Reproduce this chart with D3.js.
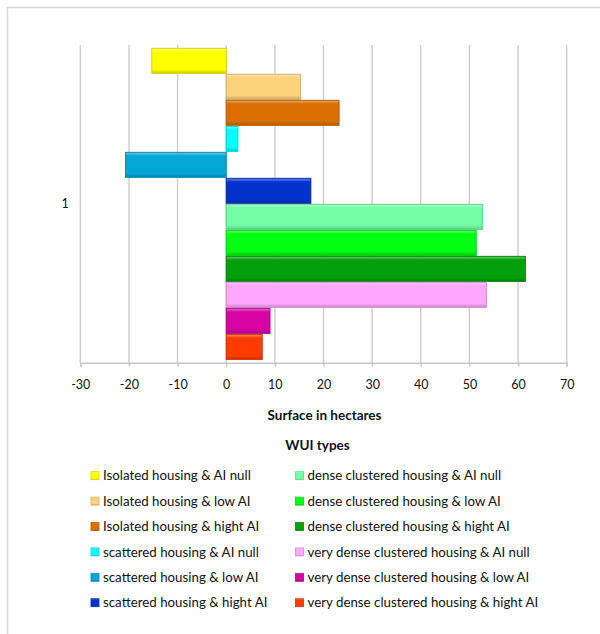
<!DOCTYPE html>
<html><head><meta charset="utf-8">
<script src="https://cdn.jsdelivr.net/npm/d3@7/dist/d3.min.js"></script>
<style>body{margin:0;background:#fff}svg{display:block}text{font-family:Lato,"Open Sans",sans-serif;fill:#111}</style>
</head><body>
<script>
const categories = ["1"];
const seriesNames = [
  "Isolated housing & AI null","Isolated housing & low AI","Isolated housing & hight AI",
  "scattered housing & AI null","scattered housing & low AI","scattered housing & hight AI",
  "dense clustered housing & AI null","dense clustered housing & low AI","dense clustered housing & hight AI",
  "very dense clustered housing & AI null","very dense clustered housing & low AI","very dense clustered housing & hight AI"
];
const seriesValues = [-15.3, 15.3, 23.2, 2.4, -20.7, 17.4, 52.7, 51.4, 61.5, 53.5, 9.0, 7.4];
const seriesColors = ["#ffff00","#fcd27a","#da6e00","#00ffff","#06a6d6","#0333cc",
  "#72ffa6","#00ff10","#04a00c","#ffa6ff","#d605a3","#ff3c00"];
const xTicks = [-30,-20,-10,0,10,20,30,40,50,60,70];
const xTitle = "Surface in hectares";
const legendTitle = "WUI types";

const W = 600, H = 634;
const svg = d3.select("body").append("svg").attr("width", W).attr("height", H);

// outer frame (top and left visible)
svg.append("rect").attr("x",7.5).attr("y",7.5).attr("width",W+10).attr("height",H+10)
  .attr("fill","none").attr("stroke","#d9d9d9").attr("stroke-width",1.5);

const plot = {left:80.3, right:566.7, top:45, bottom:362.7};
const x = d3.scaleLinear().domain([-30,70]).range([plot.left, plot.right]);
const yCat = d3.scaleBand().domain(categories).range([plot.top, plot.bottom]).paddingInner(0).paddingOuter(0.009);
const ySer = d3.scaleBand().domain(seriesNames).range([0, yCat.bandwidth()]).padding(0);

// gridlines
svg.append("g").selectAll("line").data(xTicks).join("line")
  .attr("x1", d=>x(d)).attr("x2", d=>x(d)).attr("y1", plot.top).attr("y2", plot.bottom)
  .attr("stroke","#d0d0d0").attr("stroke-width",1.5);

// axis
const axis = svg.append("g").attr("transform",`translate(0,${plot.bottom})`)
  .call(d3.axisBottom(x).tickValues(xTicks).tickSize(4).tickPadding(13).tickFormat(d=>String(d)));
axis.select(".domain").attr("stroke","#c8c8c8").attr("stroke-width",1.5);
axis.selectAll(".tick line").attr("stroke","#c8c8c8").attr("stroke-width",1.5);
axis.selectAll(".tick text").attr("font-size",12.5).attr("font-family","Lato, sans-serif").attr("fill","#111");

// category label
svg.append("text").attr("x",65).attr("y", yCat(categories[0]) + yCat.bandwidth()/2)
  .attr("dy","0.35em").attr("text-anchor","middle").attr("font-size",12.5).text(categories[0]);

// bars with bevel
const defs = svg.append("defs");
seriesColors.forEach((c,i)=>{
  const g = defs.append("linearGradient").attr("id","g"+i).attr("x1",0).attr("y1",0).attr("x2",0).attr("y2",1);
  const base = d3.color(c);
  g.append("stop").attr("offset","0%").attr("stop-color", d3.interpolateRgb(c,"#fff")(0.45));
  g.append("stop").attr("offset","14%").attr("stop-color", c);
  g.append("stop").attr("offset","84%").attr("stop-color", c);
  g.append("stop").attr("offset","100%").attr("stop-color", base.darker(0.6));
});
const bars = svg.append("g");
seriesNames.forEach((s,i)=>{
  const v = seriesValues[i];
  const y0 = yCat(categories[0]) + ySer(s);
  const x0 = x(Math.min(0,v)), x1 = x(Math.max(0,v));
  bars.append("rect").attr("x",x0).attr("y",y0+0.5).attr("width",x1-x0).attr("height",ySer.bandwidth()-1)
    .attr("fill","url(#g"+i+")").attr("stroke", d3.color(seriesColors[i]).darker(0.5)).attr("stroke-width",1);
});

// axis title
svg.append("text").attr("x",324.5).attr("y",415).attr("dy","0.35em").attr("text-anchor","middle")
  .attr("font-size",13.5).attr("font-weight","bold").text(xTitle);

// legend
svg.append("text").attr("x",317.5).attr("y",445).attr("dy","0.35em").attr("text-anchor","middle")
  .attr("font-size",13.5).attr("font-weight","bold").text(legendTitle);
const rowY = d3.scalePoint().domain(d3.range(6)).range([475.7, 602.7]);
const colX = [91, 295.5];
seriesNames.forEach((s,i)=>{
  const col = Math.floor(i/6), row = i%6;
  const gx = colX[col], gy = rowY(row);
  svg.append("rect").attr("x",gx).attr("y",gy-4).attr("width",8).attr("height",8)
    .attr("fill","url(#g"+i+")").attr("stroke", d3.color(seriesColors[i]).darker(0.5)).attr("stroke-width",0.8);
  svg.append("text").attr("x",gx+12).attr("y",gy).attr("dy","0.35em").attr("font-size",13.3)
    .text(s);
});
</script>
</body></html>
